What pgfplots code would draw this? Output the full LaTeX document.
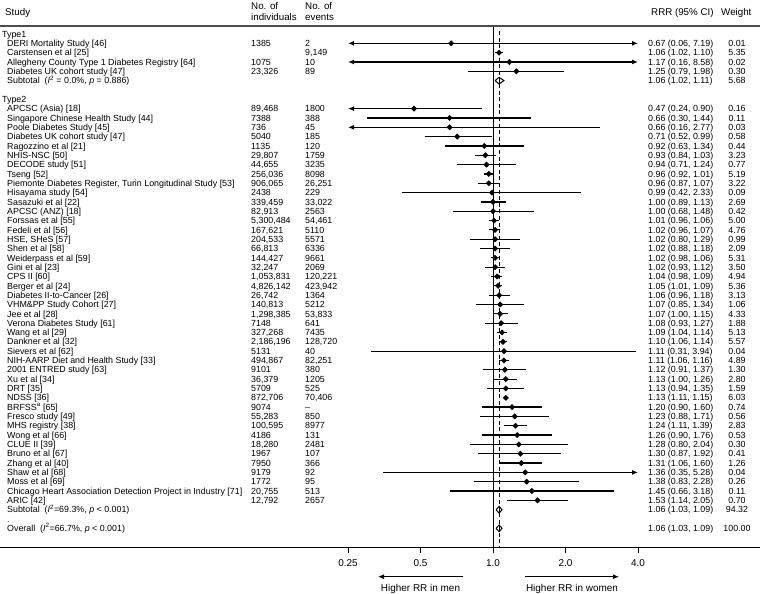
\documentclass[border=0pt]{standalone}
\usepackage{pgfplots}
\pgfplotsset{compat=1.18}
\usepackage{fontspec}
\setmainfont{Liberation Sans}
\usetikzlibrary{arrows.meta}

\newcommand\fz{\fontsize{8.9}{10}\selectfont}
\newcommand\fzh{\fontsize{9.8}{11}\selectfont}
\newcommand\fzb{\fontsize{10}{12}\selectfont}

\pgfplotstableread{
r est
1 0.67
2 1.06
3 1.17
4 1.25
8 0.47
9 0.66
10 0.66
11 0.71
12 0.92
13 0.93
14 0.94
15 0.96
16 0.96
17 0.99
18 1.00
19 1.00
20 1.01
21 1.02
22 1.02
23 1.02
24 1.02
25 1.02
26 1.04
27 1.05
28 1.06
29 1.07
30 1.07
31 1.08
32 1.09
33 1.10
34 1.11
35 1.11
36 1.12
37 1.13
38 1.13
39 1.13
40 1.20
41 1.23
42 1.24
43 1.26
44 1.28
45 1.30
46 1.31
47 1.36
48 1.38
49 1.45
50 1.53
}\esttab

\newcommand\ci[3]{\addplot[ci] coordinates {(#2,#1) (#3,#1)};}
\newcommand\srow[6]{%
  \node[lab] at (7,#1) {#2};
  \node[lab] at (251,#1) {#3};
  \node[lab] at (305,#1) {#4};
  \node[lab] at (648,#1) {#5};
  \node[labc] at (737,#1) {#6};}

\begin{document}
\begin{tikzpicture}[x=1bp,y=1bp,
  ci/.style={black, line width=1.2bp},
  dm/.style={black, line width=1bp, fill=white, line join=miter},
  lab/.style={anchor=west, inner sep=0pt, text height=6.4bp, text depth=0pt, font=\fz},
  labc/.style={lab, anchor=center},
  hd/.style={anchor=west, inner sep=0pt, text height=7bp, text depth=0pt, font=\fzh}]
\useasboundingbox (0,-47) rectangle (760,547);
\begin{axis}[
  at={(0,0)}, anchor=south west,
  scale only axis, width=760bp, height=521bp,
  xmode=log, log basis x=2,
  xmin=0.008974, xmax=12.84,
  ymin=-0.86, ymax=55, y dir=reverse,
  axis x line*=bottom, axis y line=none,
  xtick={0.25,0.5,1,2,4}, xticklabels={0.25,0.5,1.0,2.0,4.0},
  minor xtick={},
  tick align=outside, major tick length=6bp,
  x axis line style={line width=1bp},
  xtick style={black, line width=1bp},
  xticklabel style={font=\fzb, yshift=-3bp},
  clip=false,
]
% reference lines
\addplot[black, line width=0.9bp] coordinates {(1,-0.86) (1,55)};
\addplot[black, line width=0.9bp, dash pattern=on 4bp off 2.6bp] coordinates {(1.06,-0.3) (1.06,55)};
% confidence intervals
\addplot[ci, {Latex[length=6bp,width=5bp]}-{Latex[length=6bp,width=5bp]}] coordinates {(0.25,1) (4,1)};
\ci{2}{1.02}{1.10}
\addplot[ci, {Latex[length=6bp,width=5bp]}-{Latex[length=6bp,width=5bp]}] coordinates {(0.25,3) (4,3)};
\ci{4}{0.79}{1.98}
\addplot[ci, {Latex[length=6bp,width=5bp]}-] coordinates {(0.25,8) (0.90,8)};
\ci{9}{0.30}{1.44}
\addplot[ci, {Latex[length=6bp,width=5bp]}-] coordinates {(0.25,10) (2.77,10)};
\ci{11}{0.52}{0.99}
\ci{12}{0.63}{1.34}
\ci{13}{0.84}{1.03}
\ci{14}{0.71}{1.24}
\ci{15}{0.92}{1.01}
\ci{16}{0.87}{1.07}
\ci{17}{0.42}{2.33}
\ci{18}{0.89}{1.13}
\ci{19}{0.68}{1.48}
\ci{20}{0.96}{1.06}
\ci{21}{0.96}{1.07}
\ci{22}{0.80}{1.29}
\ci{23}{0.88}{1.18}
\ci{24}{0.98}{1.06}
\ci{25}{0.93}{1.12}
\ci{26}{0.98}{1.09}
\ci{27}{1.01}{1.09}
\ci{28}{0.96}{1.18}
\ci{29}{0.85}{1.34}
\ci{30}{1.00}{1.15}
\ci{31}{0.93}{1.27}
\ci{32}{1.04}{1.14}
\ci{33}{1.06}{1.14}
\ci{34}{0.31}{3.94}
\ci{35}{1.06}{1.16}
\ci{36}{0.91}{1.37}
\ci{37}{1.00}{1.26}
\ci{38}{0.94}{1.35}
\ci{39}{1.11}{1.15}
\ci{40}{0.90}{1.60}
\ci{41}{0.88}{1.71}
\ci{42}{1.11}{1.39}
\ci{43}{0.90}{1.76}
\ci{44}{0.80}{2.04}
\ci{45}{0.87}{1.92}
\ci{46}{1.06}{1.60}
\addplot[ci, -{Latex[length=6bp,width=5bp]}] coordinates {(0.35,47) (4,47)};
\ci{48}{0.83}{2.28}
\ci{49}{0.66}{3.18}
\ci{50}{1.14}{2.05}
% point estimates
\addplot[only marks, mark=square*, mark size=1.9bp, mark options={rotate=45, fill=black, draw=black}] table[x=est,y=r]{\esttab};
% pooled diamonds
\addplot[dm] coordinates {(1.02,5) (1.06,4.64) (1.11,5) (1.06,5.36) (1.02,5)};
\addplot[black, line width=1bp] coordinates {(1.06,4.64) (1.06,5.36)};
\addplot[dm] coordinates {(1.03,51) (1.06,50.64) (1.09,51) (1.06,51.36) (1.03,51)};
\addplot[black, line width=1bp] coordinates {(1.06,50.64) (1.06,51.36)};
\addplot[dm] coordinates {(1.03,53) (1.06,52.64) (1.09,53) (1.06,53.36) (1.03,53)};
\addplot[black, line width=1bp] coordinates {(1.06,52.64) (1.06,53.36)};
\end{axis}

\begin{scope}[x=1bp, y=-9.327bp, shift={(0,513bp)}]
\draw[black!70, line width=1.3bp] (0,-0.86) -- (760,-0.86);
% header
\node[hd] at (5,-2.33) {Study};
\node[hd] at (251,-3.0) {No. of};
\node[hd] at (251,-1.79) {individuals};
\node[hd] at (305,-3.0) {No. of};
\node[hd] at (305,-1.79) {events};
\node[hd] at (651,-2.33) {RRR (95\% CI)};
\node[hd] at (721,-2.33) {Weight};
% body
\node[lab] at (2,0) {Type1};
\srow{1}{DERI Mortality Study [46]}{1385}{2}{0.67 (0.06, 7.19)}{0.01}
\srow{2}{Carstensen et al [25]}{}{9,149}{1.06 (1.02, 1.10)}{5.35}
\srow{3}{Allegheny County Type 1 Diabetes Registry [64]}{1075}{10}{1.17 (0.16, 8.58)}{0.02}
\srow{4}{Diabetes UK cohort study [47]}{23,326}{89}{1.25 (0.79, 1.98)}{0.30}
\srow{5}{Subtotal\ \ (\textit{I}\textsuperscript{2} = 0.0\%, \textit{p} = 0.886)}{}{}{1.06 (1.02, 1.11)}{5.68}
\node[lab] at (2,7) {Type2};
\srow{8}{APCSC (Asia) [18]}{89,468}{1800}{0.47 (0.24, 0.90)}{0.16}
\srow{9}{Singapore Chinese Health Study [44]}{7388}{388}{0.66 (0.30, 1.44)}{0.11}
\srow{10}{Poole Diabetes Study [45]}{736}{45}{0.66 (0.16, 2.77)}{0.03}
\srow{11}{Diabetes UK cohort study [47]}{5040}{185}{0.71 (0.52, 0.99)}{0.58}
\srow{12}{Ragozzino et al [21]}{1135}{120}{0.92 (0.63, 1.34)}{0.44}
\srow{13}{NHIS-NSC [50]}{29,807}{1759}{0.93 (0.84, 1.03)}{3.23}
\srow{14}{DECODE study [51]}{44,655}{3235}{0.94 (0.71, 1.24)}{0.77}
\srow{15}{Tseng [52]}{256,036}{8098}{0.96 (0.92, 1.01)}{5.19}
\srow{16}{Piemonte Diabetes Register, Turin Longitudinal Study [53]}{906,065}{26,251}{0.96 (0.87, 1.07)}{3.22}
\srow{17}{Hisayama study [54]}{2438}{229}{0.99 (0.42, 2.33)}{0.09}
\srow{18}{Sasazuki et al [22]}{339,459}{33,022}{1.00 (0.89, 1.13)}{2.69}
\srow{19}{APCSC (ANZ) [18]}{82,913}{2563}{1.00 (0.68, 1.48)}{0.42}
\srow{20}{Forssas et al [55]}{5,300,484}{54,461}{1.01 (0.96, 1.06)}{5.00}
\srow{21}{Fedeli et al [56]}{167,621}{5110}{1.02 (0.96, 1.07)}{4.76}
\srow{22}{HSE, SHeS [57]}{204,533}{5571}{1.02 (0.80, 1.29)}{0.99}
\srow{23}{Shen et al [58]}{66,813}{6336}{1.02 (0.88, 1.18)}{2.09}
\srow{24}{Weiderpass et al [59]}{144,427}{9661}{1.02 (0.98, 1.06)}{5.31}
\srow{25}{Gini et al [23]}{32,247}{2069}{1.02 (0.93, 1.12)}{3.50}
\srow{26}{CPS II [60]}{1,053,831}{120,221}{1.04 (0.98, 1.09)}{4.94}
\srow{27}{Berger et al [24]}{4,826,142}{423,942}{1.05 (1.01, 1.09)}{5.36}
\srow{28}{Diabetes II-to-Cancer [26]}{26,742}{1364}{1.06 (0.96, 1.18)}{3.13}
\srow{29}{VHM\&PP Study Cohort [27]}{140,813}{5212}{1.07 (0.85, 1.34)}{1.06}
\srow{30}{Jee et al [28]}{1,298,385}{53,833}{1.07 (1.00, 1.15)}{4.33}
\srow{31}{Verona Diabetes Study [61]}{7148}{641}{1.08 (0.93, 1.27)}{1.88}
\srow{32}{Wang et al [29]}{327,268}{7435}{1.09 (1.04, 1.14)}{5.13}
\srow{33}{Dankner et al [32]}{2,186,196}{128,720}{1.10 (1.06, 1.14)}{5.57}
\srow{34}{Sievers et al [62]}{5131}{40}{1.11 (0.31, 3.94)}{0.04}
\srow{35}{NIH-AARP Diet and Health Study [33]}{494,867}{82,251}{1.11 (1.06, 1.16)}{4.89}
\srow{36}{2001 ENTRED study [63]}{9101}{380}{1.12 (0.91, 1.37)}{1.30}
\srow{37}{Xu et al [34]}{36,379}{1205}{1.13 (1.00, 1.26)}{2.80}
\srow{38}{DRT [35]}{5709}{525}{1.13 (0.94, 1.35)}{1.59}
\srow{39}{NDSS [36]}{872,706}{70,406}{1.13 (1.11, 1.15)}{6.03}
\srow{40}{BRFSS\textsuperscript{a} [65]}{9074}{\textendash}{1.20 (0.90, 1.60)}{0.74}
\srow{41}{Fresco study [49]}{55,283}{850}{1.23 (0.88, 1.71)}{0.56}
\srow{42}{MHS registry [38]}{100,595}{8977}{1.24 (1.11, 1.39)}{2.83}
\srow{43}{Wong et al [66]}{4186}{131}{1.26 (0.90, 1.76)}{0.53}
\srow{44}{CLUE II [39]}{18,280}{2481}{1.28 (0.80, 2.04)}{0.30}
\srow{45}{Bruno et al [67]}{1967}{107}{1.30 (0.87, 1.92)}{0.41}
\srow{46}{Zhang et al [40]}{7950}{366}{1.31 (1.06, 1.60)}{1.26}
\srow{47}{Shaw et al [68]}{9179}{92}{1.36 (0.35, 5.28)}{0.04}
\srow{48}{Moss et al [69]}{1772}{95}{1.38 (0.83, 2.28)}{0.26}
\srow{49}{Chicago Heart Association Detection Project in Industry [71]}{20,755}{513}{1.45 (0.66, 3.18)}{0.11}
\srow{50}{ARIC [42]}{12,792}{2657}{1.53 (1.14, 2.05)}{0.70}
\srow{51}{Subtotal\ \ (\textit{I}\textsuperscript{2}=69.3\%, \textit{p} < 0.001)}{}{}{1.06 (1.03, 1.09)}{94.32}
\node[lab] at (7,52) {.};
\srow{53}{Overall\ \ (\textit{I}\textsuperscript{2}=66.7\%, \textit{p} < 0.001)}{}{}{1.06 (1.03, 1.09)}{100.00}
% bottom direction arrows
\draw[black, line width=1bp, -{Latex[length=6bp,width=5bp]}] (463,58.19) -- (378,58.19);
\draw[black, line width=1bp, -{Latex[length=6bp,width=5bp]}] (525,58.19) -- (619,58.19);
\node[font=\fzb, inner sep=0pt, text height=7.2bp, text depth=0pt, anchor=center] at (420.5,59.37) {Higher RR in men};
\node[font=\fzb, inner sep=0pt, text height=7.2bp, text depth=0pt, anchor=center] at (572,59.37) {Higher RR in women};
\end{scope}
\end{tikzpicture}
\end{document}
